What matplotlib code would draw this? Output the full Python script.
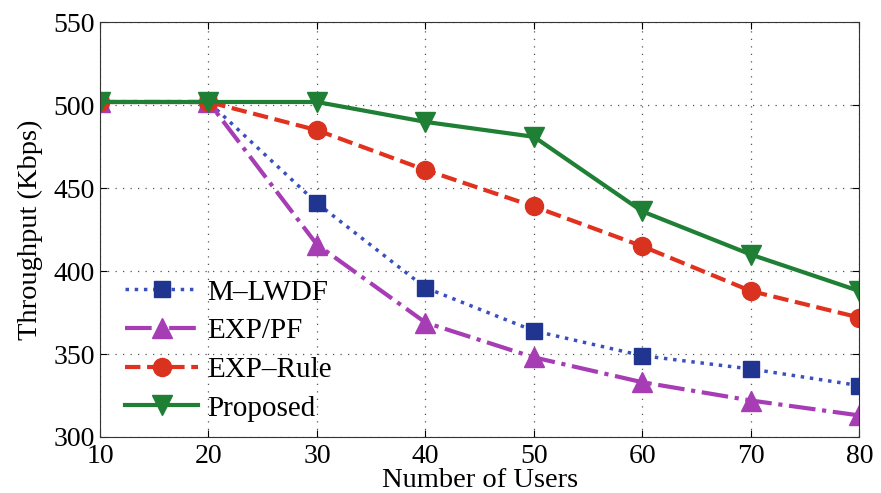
import matplotlib
matplotlib.use('Agg')
import matplotlib.pyplot as plt

plt.rcParams['font.family'] = ['Liberation Serif', 'DejaVu Serif']

# DATA
users = [10, 20, 30, 40, 50, 60, 70, 80]
m_lwdf = [502, 502, 441, 390, 364, 349, 341, 331]
exp_pf = [502, 502, 416, 369, 348, 333, 322, 313]
exp_rule = [502, 502, 485, 461, 439, 415, 388, 372]
proposed = [502, 502, 502, 490, 481, 436, 410, 388]

fig = plt.figure(figsize=(8.81, 4.93), dpi=100)
ax = fig.add_axes([0.1135, 0.1136, 0.862, 0.841])

ax.plot(users, m_lwdf, ls=':', color='#3a4fc0', lw=2.5, marker='s', ms=11,
        mfc='#1f3590', mec='#1f3590', label='M\u2013LWDF')
ax.plot(users, exp_pf, ls='-.', color='#a63db5', lw=3, marker='^', ms=14,
        mfc='#a63db5', mec='#a63db5', label='EXP/PF')
ax.plot(users, exp_rule, ls='--', color='#e0321e', lw=3, marker='o', ms=13,
        mfc='#d9331f', mec='#d9331f', label='EXP\u2013Rule')
ax.plot(users, proposed, ls='-', color='#1e7f35', lw=3, marker='v', ms=14,
        mfc='#1e7f35', mec='#1e7f35', label='Proposed')

ax.set_xlim(10, 80)
ax.set_ylim(300, 550)
ax.set_xticks(users)
ax.set_yticks([300, 350, 400, 450, 500, 550])
ax.grid(True, ls=(0, (1, 5)), color='#555555', lw=0.9)
ax.tick_params(direction='in', labelsize=20, top=True, right=True, length=5)
ax.tick_params(axis='x', pad=5)
ax.set_xlabel('Number of Users', fontsize=20.5, labelpad=-1)
ax.set_ylabel('Throughput (Kbps)', fontsize=20.5, labelpad=8)
for s in ax.spines.values():
    s.set_color('#333333')

ax.legend(loc='lower left', bbox_to_anchor=(0.022, 0.016), fontsize=21,
          frameon=False, numpoints=1, handlelength=2.5, handletextpad=0.3,
          labelspacing=0.42, borderaxespad=0, borderpad=0.3)

fig.savefig('out.png', dpi=100)
